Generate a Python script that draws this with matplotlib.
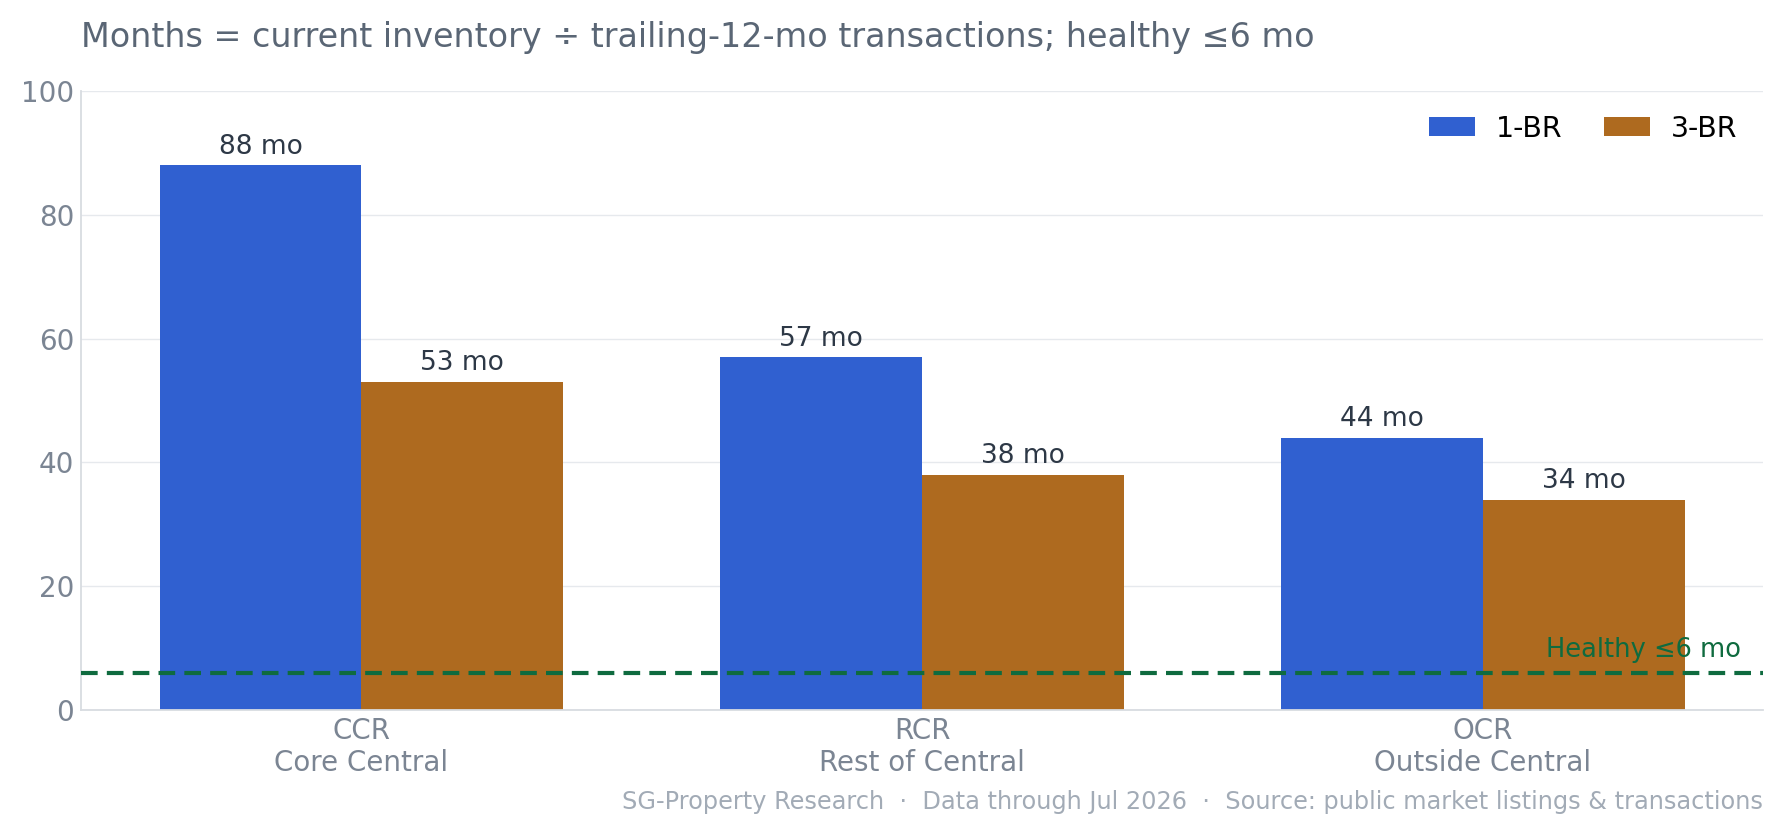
import matplotlib
matplotlib.use("Agg")
import matplotlib.pyplot as plt
import numpy as np

# ---- data ----
regions = ["CCR\nCore Central", "RCR\nRest of Central", "OCR\nOutside Central"]
one_br = [88, 57, 44]
three_br = [53, 38, 34]
healthy = 6

title = "Months = current inventory \u00f7 trailing-12-mo transactions; healthy \u22646 mo"
footer = ("SG-Property Research  \u00b7  Data through Jul 2026  \u00b7  "
          "Source: public market listings & transactions")

c_one = "#3060D0"
c_three = "#AE6A1F"
c_green = "#0F6B3F"
c_tick = "#7B8593"
c_val = "#2D3846"

fig = plt.figure(figsize=(17.85, 8.25), dpi=100)
ax = fig.add_axes([0.0454, 0.1394, 0.9423, 0.7503])

x = np.arange(len(regions))
w = 0.36
b1 = ax.bar(x - w / 2, one_br, w, color=c_one, label="1-BR", zorder=2)
b3 = ax.bar(x + w / 2, three_br, w, color=c_three, label="3-BR", zorder=2)

for bars, vals in ((b1, one_br), (b3, three_br)):
    for rect, v in zip(bars, vals):
        ax.annotate(f"{v} mo", (rect.get_x() + rect.get_width() / 2, v),
                    xytext=(0, 4), textcoords="offset points",
                    ha="center", va="bottom", fontsize=19, color=c_val)

ax.axhline(healthy, color=c_green, linestyle=(0, (4, 2.2)), linewidth=3, zorder=3)
ax.text(0.987, healthy + 1.6, "Healthy \u22646 mo", transform=ax.get_yaxis_transform(),
        ha="right", va="bottom", fontsize=18.5, color=c_green, zorder=4)

ax.set_xlim(-0.5, 2.5)
ax.set_ylim(0, 100)
ax.set_yticks([0, 20, 40, 60, 80, 100])
ax.set_xticks(x)
ax.set_xticklabels(regions)
ax.tick_params(axis="both", length=0, labelsize=20, labelcolor=c_tick)
ax.tick_params(axis="y", pad=5)
ax.tick_params(axis="x", pad=5)
ax.grid(axis="y", color="#E6E9ED", linewidth=1, zorder=0)
ax.set_axisbelow(True)
for s in ("top", "right"):
    ax.spines[s].set_visible(False)
for s in ("left", "bottom"):
    ax.spines[s].set_color("#D8DCE1")
    ax.spines[s].set_linewidth(1.3)

ax.legend(loc="upper right", frameon=False, fontsize=20.5, handlelength=1.6,
          handleheight=0.64, handletextpad=0.75, columnspacing=1.45, ncol=2,
          bbox_to_anchor=(1.0, 1.003))

fig.text(0.0454, 0.955, title, fontsize=24, color="#5A6675", ha="left", va="center")
fig.text(0.9877, 0.028, footer, fontsize=17.3, color="#A2ABB6", ha="right", va="center")

fig.savefig("out.png", dpi=100)
